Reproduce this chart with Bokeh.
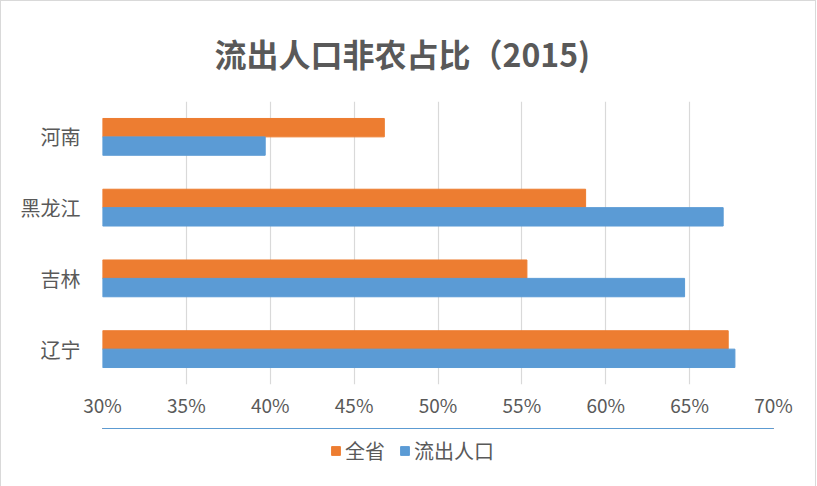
from bokeh.plotting import figure
from bokeh.layouts import column
from bokeh.models import Legend, LegendItem, Title, PrintfTickFormatter, FixedTicker, ColumnDataSource
from bokeh.transform import dodge
from bokeh.embed import file_html
from bokeh.resources import INLINE

provinces = ["辽宁", "吉林", "黑龙江", "河南"]
whole_province = [67.3, 55.3, 58.8, 46.8]
outflow = [67.7, 64.7, 67.0, 39.7]
ticks = [30, 35, 40, 45, 50, 55, 60, 65, 70]
series_names = ["全省", "流出人口"]

ORANGE = "#ED7D31"
BLUE = "#5B9BD5"
GREY = "#595959"
FONT = "Noto Sans CJK SC"

src = ColumnDataSource(dict(prov=provinces, whole=whole_province, out=outflow))

p = figure(y_range=provinces, x_range=(30, 70), frame_width=671, frame_height=283,
           output_backend="svg", toolbar_location=None,
           min_border_left=101, min_border_right=42, min_border_top=100, min_border_bottom=44)

p.hbar(y=dodge("prov", 0.13, range=p.y_range), left=30, right="whole", height=0.26,
       source=src, color=ORANGE)
p.hbar(y=dodge("prov", -0.13, range=p.y_range), left=30, right="out", height=0.26,
       source=src, color=BLUE)

p.outline_line_color = None
p.ygrid.grid_line_color = None
p.xgrid.grid_line_color = "#d9d9d9"
p.xgrid.grid_line_width = 1.2

p.xaxis.ticker = FixedTicker(ticks=ticks)
p.xaxis.formatter = PrintfTickFormatter(format="%d%%")
for ax in (p.xaxis, p.yaxis):
    ax.axis_line_color = None
    ax.major_tick_line_color = None
    ax.minor_tick_line_color = None
    ax.major_label_text_color = GREY
    ax.major_label_text_font = FONT
p.xaxis.major_label_text_font_size = "19px"
p.xaxis.major_label_standoff = 0
p.yaxis.major_label_text_font_size = "20px"
p.yaxis.major_label_standoff = 16

title = Title(text="流出人口非农占比（2015)", align="left", text_font=FONT,
              text_font_size="32px", text_font_style="bold", text_color=GREY,
              offset=112, standoff=51)
p.add_layout(title, "above")

# legend lives in its own strip under the chart; its bars fall outside the strip's range
q = figure(x_range=(0, 1), y_range=(0, 1), width=814, height=58,
           output_backend="svg", toolbar_location=None,
           x_axis_location=None, y_axis_location=None, min_border=0)
q.outline_line_color = None
q.grid.grid_line_color = None
k1 = q.hbar(y="whole", right="whole", height=0.5, source=src, color=ORANGE)
k2 = q.hbar(y="out", right="out", height=0.5, source=src, color=BLUE)

legend = Legend(items=[LegendItem(label=series_names[0], renderers=[k1]),
                       LegendItem(label=series_names[1], renderers=[k2])],
                orientation="horizontal", location=(228, 21),
                label_text_font=FONT, label_text_font_size="20px", label_text_color=GREY,
                glyph_width=11, glyph_height=11, spacing=14, label_standoff=4,
                border_line_color=None, background_fill_alpha=0, margin=0, padding=0)
q.add_layout(legend)

page = column(p, q, spacing=0, styles={"border": "1px solid #d9d9d9"})

open("out.html", "w").write(file_html(page, INLINE))
